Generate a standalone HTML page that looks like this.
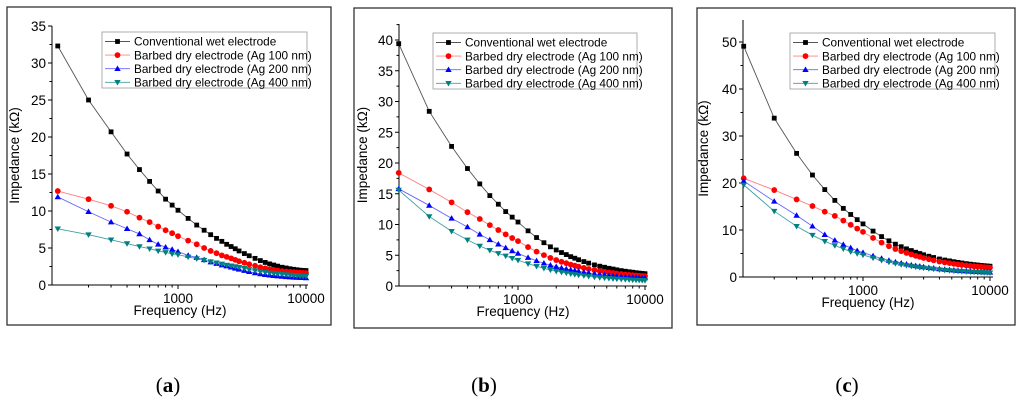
<!DOCTYPE html>
<html><head><meta charset="utf-8"><style>
body{margin:0;background:#fff;width:1024px;height:408px;overflow:hidden;font-family:"Liberation Sans",sans-serif}
svg{display:block}
</style></head><body>
<svg id="s" width="1024" height="408" xmlns="http://www.w3.org/2000/svg"></svg>
<script>
const freqs=[115,200,300,400,500,600,700,800,900,1000,1200,1400,1600,1800,2000,2200,2400,2600,2800,3000,3300,3600,4000,4400,4800,5200,5600,6000,6500,7000,7500,8000,8500,9000,9500,10000];
const seriesNames=["Conventional wet electrode","Barbed dry electrode (Ag 100 nm)","Barbed dry electrode (Ag 200 nm)","Barbed dry electrode (Ag 400 nm)"];
const aWet=[32.3,25.0,20.7,17.7,15.6,14.0,12.7,11.6,10.8,10.1,9.0,8.1,7.4,6.8,6.3,5.9,5.5,5.2,4.9,4.6,4.25,3.95,3.6,3.3,3.05,2.85,2.7,2.55,2.4,2.3,2.2,2.12,2.06,2.0,1.97,1.95];
const a100=[12.7,11.6,10.7,9.9,9.1,8.5,7.9,7.4,7.0,6.6,6.0,5.5,5.0,4.6,4.3,4.0,3.8,3.6,3.4,3.2,3.0,2.8,2.6,2.4,2.25,2.1,2.0,1.95,1.88,1.82,1.77,1.73,1.7,1.67,1.64,1.62];
const a200=[11.9,9.9,8.5,7.6,6.9,6.1,5.5,5.1,4.8,4.5,4.0,3.7,3.4,3.1,2.9,2.7,2.55,2.4,2.25,2.12,1.95,1.8,1.62,1.5,1.4,1.32,1.25,1.2,1.15,1.1,1.07,1.04,1.02,1.0,0.98,0.96];
const a400=[7.6,6.8,6.1,5.6,5.2,4.9,4.6,4.4,4.2,4.1,3.8,3.55,3.35,3.15,3.0,2.85,2.7,2.6,2.5,2.4,2.25,2.1,1.95,1.82,1.72,1.64,1.57,1.5,1.44,1.39,1.34,1.3,1.26,1.23,1.2,1.18];
const bWet=[39.4,28.4,22.7,19.1,16.6,14.7,13.3,12.1,11.2,10.4,8.97,7.88,7.04,6.37,5.86,5.44,5.11,4.77,4.52,4.27,3.97,3.72,3.43,3.22,3.05,2.88,2.76,2.63,2.5,2.4,2.31,2.24,2.16,2.1,2.05,2.0];
const b100=[18.4,15.7,13.6,12.0,10.9,9.9,9.1,8.4,7.8,7.3,6.33,5.59,5.02,4.56,4.22,3.94,3.71,3.48,3.31,3.14,2.94,2.77,2.57,2.43,2.31,2.2,2.11,2.03,1.94,1.87,1.81,1.76,1.71,1.67,1.63,1.6];
const b200=[15.8,13.1,11.0,9.6,8.4,7.5,6.8,6.2,5.7,5.3,4.62,4.1,3.7,3.38,3.14,2.94,2.78,2.62,2.5,2.38,2.24,2.12,1.98,1.88,1.8,1.72,1.66,1.6,1.54,1.49,1.45,1.41,1.38,1.35,1.32,1.3];
const b400=[15.6,11.3,8.9,7.5,6.5,5.8,5.3,4.9,4.5,4.2,3.64,3.21,2.88,2.62,2.42,2.25,2.12,1.99,1.89,1.79,1.68,1.58,1.46,1.38,1.31,1.25,1.2,1.15,1.1,1.06,1.02,0.99,0.96,0.94,0.92,0.9];
const cWet=[49.1,33.8,26.3,21.7,18.6,16.3,14.6,13.3,12.2,11.3,9.77,8.6,7.7,6.98,6.44,5.99,5.63,5.27,5.0,4.73,4.42,4.15,3.83,3.61,3.43,3.25,3.11,2.98,2.84,2.73,2.63,2.55,2.47,2.41,2.35,2.3];
const c100=[21.0,18.5,16.5,15.1,13.9,13.0,12.0,11.1,10.3,9.6,8.31,7.32,6.56,5.95,5.5,5.12,4.81,4.51,4.28,4.05,3.79,3.56,3.29,3.1,2.95,2.8,2.68,2.57,2.46,2.36,2.28,2.21,2.14,2.09,2.05,2.0];
const c200=[20.4,16.1,13.1,10.8,9.0,7.8,6.9,6.2,5.6,5.2,4.49,3.94,3.52,3.18,2.93,2.72,2.55,2.39,2.26,2.13,1.99,1.86,1.71,1.61,1.53,1.44,1.38,1.32,1.25,1.2,1.16,1.12,1.08,1.05,1.03,1.0];
const c400=[19.6,14.0,10.8,8.9,7.6,6.7,6.0,5.4,5.0,4.7,4.05,3.56,3.18,2.88,2.65,2.46,2.31,2.15,2.04,1.93,1.79,1.68,1.55,1.45,1.38,1.3,1.24,1.19,1.13,1.08,1.04,1.01,0.97,0.95,0.92,0.9];
const aTicks=[0,5,10,15,20,25,30,35];
const bTicks=[0,5,10,15,20,25,30,35,40];
const cTicks=[0,10,20,30,40,50];
const xTicks=[1000,10000];

const NS="http://www.w3.org/2000/svg";
const svg=document.getElementById('s');
function mk(tag,attrs,parent){const e=document.createElementNS(NS,tag);for(const k in attrs)e.setAttribute(k,attrs[k]);(parent||svg).appendChild(e);return e;}
const colors=["#000","#ff0000","#0000ff","#008080"];
const lineColors=["#555","#ff8080","#6666ff","#40a0a0"];
function marker(g,k,x,y){
  let e;
  if(k==0)e=mk('rect',{x:x-2.4,y:y-2.4,width:4.8,height:4.8,fill:colors[k]},g);
  else if(k==1)e=mk('circle',{cx:x,cy:y,r:2.9,fill:colors[k]},g);
  else if(k==2)e=mk('path',{d:`M${x},${y-3.2}L${x+3.2},${y+2.3}L${x-3.2},${y+2.3}Z`,fill:colors[k]},g);
  else e=mk('path',{d:`M${x},${y+3.2}L${x+3.2},${y-2.3}L${x-3.2},${y-2.3}Z`,fill:colors[k]},g);
  return e;
}
function panel(p){
  const g=mk('g',{});
  
  
  const fr=mk('rect',{x:p.fx,y:p.fy,width:p.fw,height:p.fh,fill:'none',stroke:'#333','stroke-width':1.3},g);
  
  
  const X=f=>p.x1000+p.dec*Math.log10(f/1000);
  const Y=v=>p.y0-v*p.ppu;
  const ax=mk('g',{stroke:'#000','stroke-width':1},g);
  
  
  mk('line',{x1:p.xl,y1:p.y0,x2:p.xr,y2:p.y0},ax);
  mk('line',{x1:p.xl,y1:p.y0,x2:p.xl,y2:p.yt},ax);
  for(let m=100;m<=10000;m+= (m<1000?100:1000)){const x=X(m);if(x<p.xl)continue;const big=(m==1000||m==10000);mk('line',{x1:x,y1:p.y0,x2:x,y2:p.y0+(big?4:2.5)},ax);}
  const ticks=p.ticks, step=ticks[1]-ticks[0];
  for(let v=0;Y(v)>=p.yt-0.5;v+=step/2){const y=Y(v);const big=(Math.round(v/step*2)%2==0);mk('line',{x1:p.xl,y1:y,x2:p.xl-(big?4:2.5),y2:y},ax);}
  ticks.forEach(v=>{const t=mk('text',{x:p.xl-6,y:Y(v)+5,'text-anchor':'end','font-size':13.5},g);t.textContent=v;
    
    });
  xTicks.forEach(f=>{const t=mk('text',{x:X(f),y:p.y0+18,'text-anchor':'middle','font-size':13.5},g);t.textContent=f;
    
    });
  const xt=mk('text',{x:(p.xl+p.xr)/2,y:p.y0+30,'text-anchor':'middle','font-size':13.5},g);xt.textContent='Frequency (Hz)';
  
  
  const yc=(p.y0+p.yt)/2;
  const yt=mk('text',{x:p.ytx,y:yc,'text-anchor':'middle','font-size':13.5,transform:`rotate(-90 ${p.ytx} ${yc})`},g);yt.textContent='Impedance (kΩ)';
  
  
  p.series.forEach((arr,k)=>{
    const sg=mk('g',{},g);
    
    
    mk('polyline',{points:arr.map((v,i)=>X(freqs[i])+','+Y(v)).join(' '),fill:'none',stroke:lineColors[k],'stroke-width':0.9},sg);
    arr.forEach((v,i)=>marker(sg,k,X(freqs[i]),Y(v)));
  });
  const lg=mk('g',{},g);
  
  
  mk('rect',{x:p.lx,y:p.ly,width:p.lw,height:56,fill:'#fff',stroke:'#999','stroke-width':0.8},lg);
  seriesNames.forEach((n,k)=>{
    const y=p.ly+9.5+k*13.6;
    mk('line',{x1:p.lx+3,y1:y,x2:p.lx+28,y2:y,stroke:lineColors[k],'stroke-width':0.9},lg);
    marker(lg,k,p.lx+15.5,y);
    const t=mk('text',{x:p.lx+32,y:y+4.2,'font-size':11.8},lg);t.textContent=n;
    
    
  });
  const cap=mk('text',{x:p.capx,y:392,'text-anchor':'middle','font-size':21,'font-family':'Liberation Serif, serif'},svg);
  cap.innerHTML='(<tspan font-weight="bold">'+p.id+'</tspan>)';
  
  
}
panel({id:'a',fx:7,fy:7,fw:324,fh:318,xl:52,xr:308,yt:26,y0:285,ppu:7.4,x1000:178,dec:128,ytx:19,ticks:aTicks,series:[aWet,a100,a200,a400],lx:102,ly:32,lw:205,capx:168});
panel({id:'b',fx:354,fy:8,fw:318,fh:320,xl:399,xr:647,yt:24,y0:286,ppu:6.15,x1000:518,dec:127,ytx:367,ticks:bTicks,series:[bWet,b100,b200,b400],lx:433,ly:33,lw:204,capx:484});
panel({id:'c',fx:697,fy:8,fw:318,fh:317,xl:743,xr:993,yt:20,y0:277,ppu:4.7,x1000:863,dec:127,ytx:708,ticks:cTicks,series:[cWet,c100,c200,c400],lx:790,ly:33,lw:205,capx:847});
</script>
</body></html>
